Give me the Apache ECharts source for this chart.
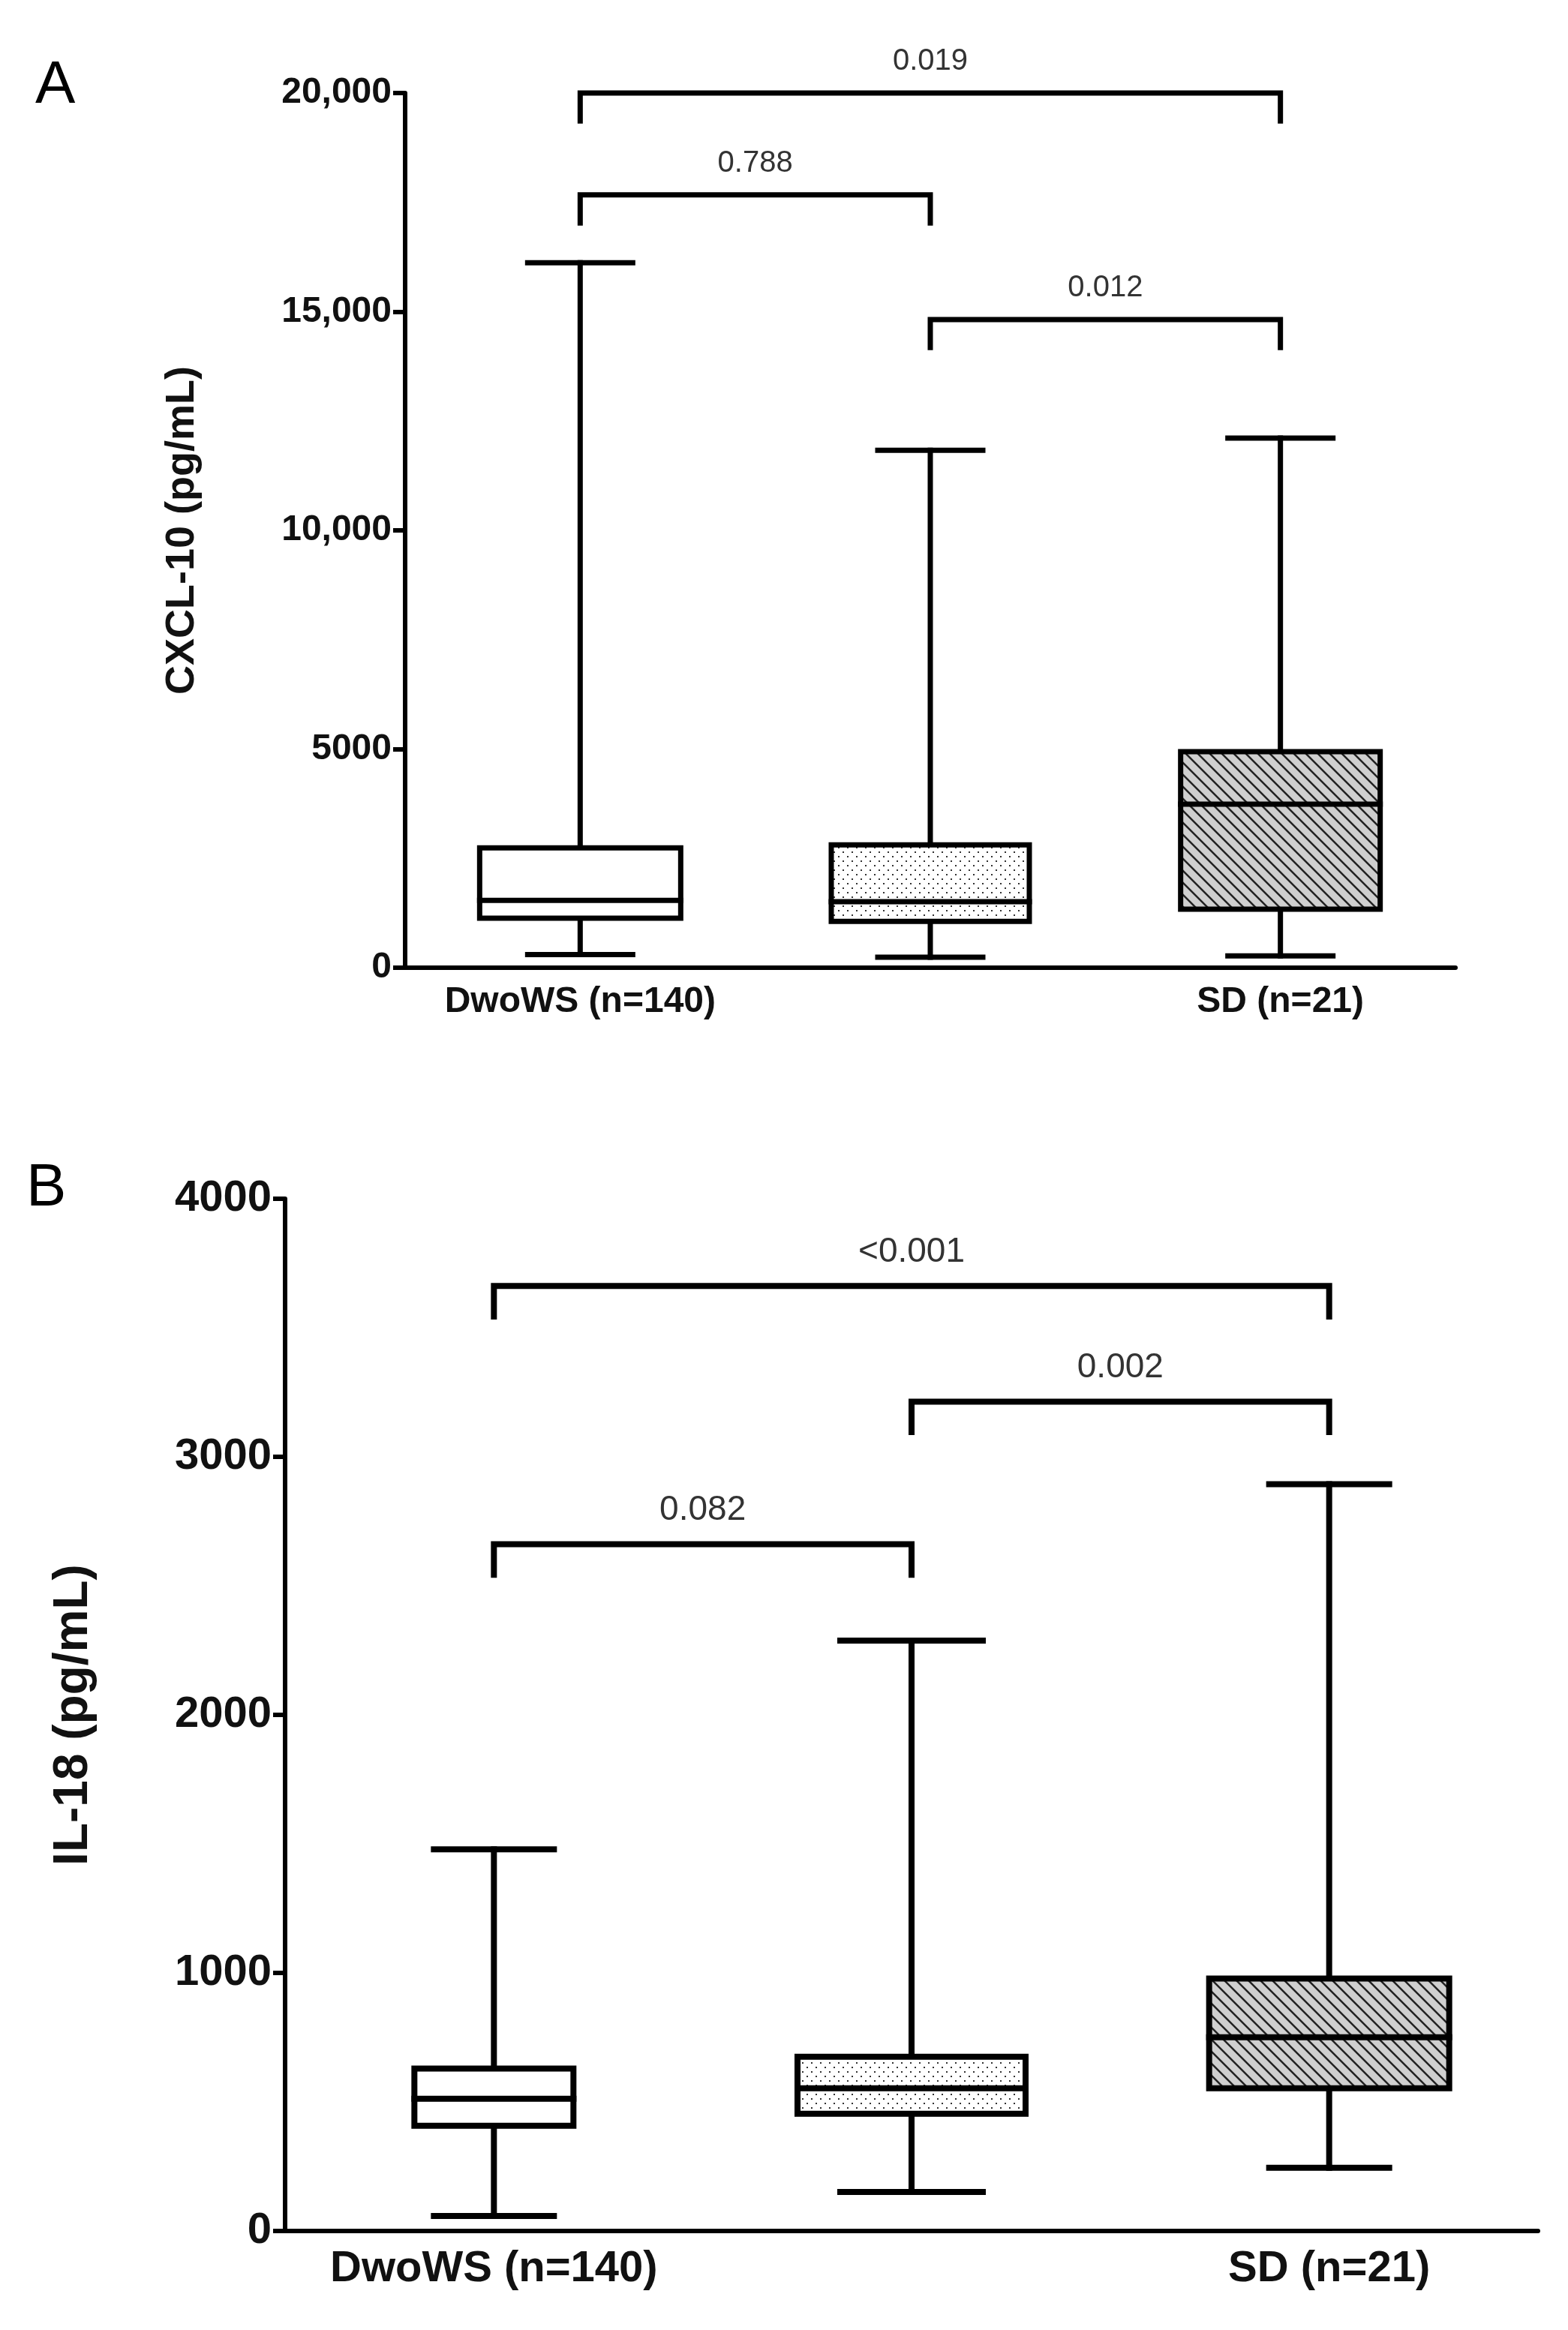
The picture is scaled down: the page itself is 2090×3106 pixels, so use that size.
<!DOCTYPE html>
<html>
<head>
<meta charset="utf-8">
<script src="https://cdn.jsdelivr.net/npm/echarts@6/dist/echarts.min.js"></script>
<style>html,body{margin:0;background:#fff}#chart{width:2090px;height:3106px}</style>
</head>
<body>
<div id="chart"></div>
<script>
const groups = ["DwoWS (n=140)", "DwWS (n=134)", "SD (n=21)"];

// panel A: CXCL-10 [min, q1, median, q3, max]
const cxclMin = [300, 240, 270];
const cxclQ1 = [1130, 1060, 1340];
const cxclMed = [1540, 1510, 3740];
const cxclQ3 = [2740, 2810, 4940];
const cxclMax = [16120, 11830, 12110];
const cxclPairs = [[0, 1], [0, 2], [1, 2]];
const cxclPairY = [17670, 20000, 14820];
const cxclPval = ["0.788", "0.019", "0.012"];

// panel B: IL-18
const ilMin = [58, 151, 245];
const ilQ1 = [408, 454, 553];
const ilMed = [512, 553, 751];
const ilQ3 = [629, 675, 978];
const ilMax = [1479, 2288, 2894];
const ilPairs = [[0, 2], [1, 2], [0, 1]];
const ilPairY = [3662, 3214, 2661];
const ilPval = ["<0.001", "0.002", "0.082"];

function makePattern(kind) {
    const c = document.createElement("canvas");
    const ctx = c.getContext("2d");
    if (kind === "dots") {
        c.width = 12; c.height = 12;
        ctx.fillStyle = "#fff"; ctx.fillRect(0, 0, 12, 12);
        ctx.fillStyle = "#333";
        ctx.fillRect(1, 1, 2, 2); ctx.fillRect(7, 7, 2, 2);
    } else if (kind === "hatch") {
        c.width = 16; c.height = 16;
        ctx.fillStyle = "#cfcfcf"; ctx.fillRect(0, 0, 16, 16);
        ctx.strokeStyle = "#222"; ctx.lineWidth = 2.5;
        ctx.beginPath();
        ctx.moveTo(-2, -2); ctx.lineTo(18, 18);
        ctx.moveTo(-10, 6); ctx.lineTo(10, 26);
        ctx.moveTo(6, -10); ctx.lineTo(26, 10);
        ctx.stroke();
    } else {
        c.width = 4; c.height = 4;
        ctx.fillStyle = "#fff"; ctx.fillRect(0, 0, 4, 4);
    }
    return {image: c, repeat: "repeat"};
}
const fills = [makePattern("plain"), makePattern("dots"), makePattern("hatch")];

function boxRender(halfW, capW, lw) {
    return function (params, api) {
        const i = params.dataIndex;
        const x = api.coord([api.value(0), 0])[0];
        const y = (k) => api.coord([api.value(0), api.value(k)])[1];
        const st = {stroke: "#000", lineWidth: lw, lineCap: "square"};
        const hw = halfW[i], cw = capW[i];
        return {
            type: "group",
            children: [
                {type: "line", shape: {x1: x, y1: y(1), x2: x, y2: y(5)}, style: st},
                {type: "line", shape: {x1: x - cw, y1: y(1), x2: x + cw, y2: y(1)}, style: st},
                {type: "line", shape: {x1: x - cw, y1: y(5), x2: x + cw, y2: y(5)}, style: st},
                {type: "rect", shape: {x: x - hw, y: y(4), width: 2 * hw, height: y(2) - y(4)},
                    style: {fill: fills[i], stroke: "#000", lineWidth: lw}},
                {type: "line", shape: {x1: x - hw, y1: y(3), x2: x + hw, y2: y(3)}, style: st}
            ]
        };
    };
}

function bracketRender(labels, drop, fontSize, lw) {
    return function (params, api) {
        const i = params.dataIndex;
        const a = api.coord([api.value(0), api.value(2)]);
        const b = api.coord([api.value(1), api.value(2)]);
        const legY = api.coord([api.value(0), api.value(2) - drop])[1];
        const st = {stroke: "#000", lineWidth: lw, fill: null};
        return {
            type: "group",
            children: [
                {type: "polyline", shape: {points: [[a[0], legY], a, b, [b[0], legY]]}, style: st},
                {type: "text", x: (a[0] + b[0]) / 2, y: a[1] - 22,
                    style: {text: labels[i], fill: "#333", font: fontSize + "px 'Liberation Sans', Arial",
                        align: "center", verticalAlign: "bottom"}}
            ]
        };
    };
}

const boxData = (mn, q1, md, q3, mx) => groups.map((_, i) => [i, mn[i], q1[i], md[i], q3[i], mx[i]]);
const pairData = (pairs, ys) => pairs.map((p, i) => [p[0], p[1], ys[i]]);

function xAxis(gi, size) {
    return {
        type: "category", gridIndex: gi, data: groups,
        axisLine: {lineStyle: {color: "#000", width: 6}},
        axisTick: {alignWithLabel: true, length: 16, lineStyle: {width: 6, color: "#000"}},
        axisLabel: {color: "#111", fontSize: size, fontWeight: "bold", fontFamily: "Liberation Sans", margin: 22}
    };
}
function yAxis(gi, max, step, name, size, nameSize, gap, fmt) {
    return {
        type: "value", gridIndex: gi, min: 0, max: max, interval: step,
        name: name, nameLocation: "middle", nameGap: gap, nameRotate: 90,
        nameTextStyle: {color: "#111", fontSize: nameSize, fontWeight: "bold", fontFamily: "Liberation Sans"},
        splitLine: {show: false},
        axisLine: {show: true, lineStyle: {color: "#000", width: 6}},
        axisTick: {show: true, length: 16, lineStyle: {width: 6, color: "#000"}},
        axisLabel: {color: "#111", fontSize: size, fontWeight: "bold", fontFamily: "Liberation Sans", margin: 18,
            formatter: fmt}
    };
}

const chart = echarts.init(document.getElementById("chart"), null, {renderer: "canvas"});
chart.setOption({
    backgroundColor: "#fff",
    animation: false,
    title: [
        {text: "A", left: 42, top: 70, textStyle: {fontSize: 80, fontWeight: "normal", fontFamily: "Liberation Sans", color: "#000"}},
        {text: "B", left: 30, top: 1540, textStyle: {fontSize: 80, fontWeight: "normal", fontFamily: "Liberation Sans", color: "#000"}}
    ],
    grid: [
        {left: 540, right: 150, top: 124, height: 1166},
        {left: 380, right: 40, top: 1598, height: 1376}
    ],
    xAxis: [xAxis(0, 48), xAxis(1, 58)],
    yAxis: [
        yAxis(0, 20000, 5000, "CXCL-10 (pg/mL)", 48, 54, 270, (v) => v >= 10000 ? v.toLocaleString("en-US") : String(v)),
        yAxis(1, 4000, 1000, "IL-18 (pg/mL)", 58, 64, 250, (v) => String(v))
    ],
    series: [
        {type: "custom", xAxisIndex: 0, yAxisIndex: 0, clip: false,
            renderItem: boxRender([134, 132, 133], [70, 70, 70], 7),
            data: boxData(cxclMin, cxclQ1, cxclMed, cxclQ3, cxclMax)},
        {type: "custom", xAxisIndex: 0, yAxisIndex: 0, clip: false,
            renderItem: bracketRender(cxclPval, 700, 40, 7),
            data: pairData(cxclPairs, cxclPairY)},
        {type: "custom", xAxisIndex: 1, yAxisIndex: 1, clip: false,
            renderItem: boxRender([106, 152, 160], [80, 95, 80], 8),
            data: boxData(ilMin, ilQ1, ilMed, ilQ3, ilMax)},
        {type: "custom", xAxisIndex: 1, yAxisIndex: 1, clip: false,
            renderItem: bracketRender(ilPval, 130, 46, 8),
            data: pairData(ilPairs, ilPairY)}
    ]
});
</script>
</body>
</html>
